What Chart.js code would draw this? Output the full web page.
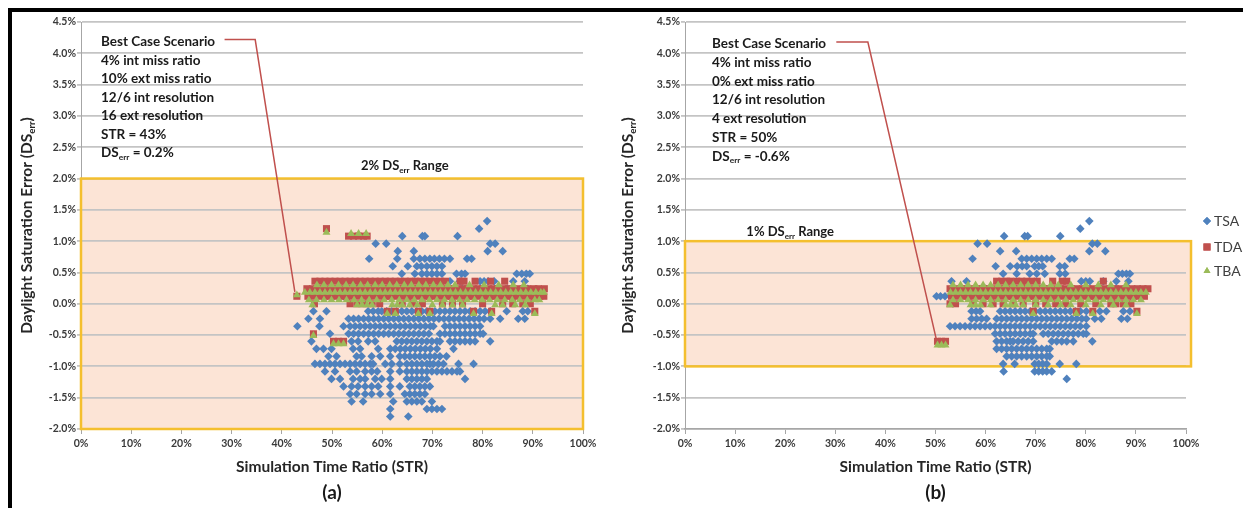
<!DOCTYPE html>
<html>
<head>
<meta charset="utf-8">
<script src="https://cdn.jsdelivr.net/npm/chart.js@4.4.1/dist/chart.umd.min.js"></script>
<style>
  html, body { margin: 0; padding: 0; background: #fff; width: 1243px; height: 508px; overflow: hidden; }
  #frame { position: absolute; left: 8px; top: 8px; width: 1235px; height: 500px; box-sizing: border-box;
           border-top: 4px solid #000; border-left: 4px solid #000; }
  canvas { position: absolute; top: 0; }
  #ca { left: 0; }
  #cb { left: 620px; }
</style>
</head>
<body>
<div id="frame"></div>
<canvas id="ca" width="620" height="508"></canvas>
<canvas id="cb" width="623" height="508"></canvas>
<script>
// axis ticks
const xTicks = [0, 10, 20, 30, 40, 50, 60, 70, 80, 90, 100];
const yTicks = [-2, -1.5, -1, -0.5, 0, 0.5, 1, 1.5, 2, 2.5, 3, 3.5, 4, 4.5];
const seriesNames = ['TSA', 'TDA', 'TBA'];

// panel (a) rows: [DSerr %, [STR % ...]]
const tsaA = [
  [1.32, [80.9]],
  [1.20, [79.3]],
  [1.08, [64.0, 68.0, 68.5, 75.0]],
  [0.96, [58.7, 60.8, 81.5, 82.5]],
  [0.84, [63.1, 66.3, 81.0, 84.0]],
  [0.72, [57.4, 63.0, 66.3, 67.5, 68.5, 69.5, 70.4, 71.4, 72.4, 73.5, 76.9, 77.8]],
  [0.60, [62.1, 65.1, 66.9, 67.8, 68.9, 69.9, 70.9, 71.9]],
  [0.48, [63.9, 66.5, 67.9, 68.9, 69.9, 70.9, 71.9, 74.8, 75.8, 76.5, 86.8, 87.8, 88.7, 89.4]],
  [0.36, [73.5, 75.5, 79.5, 80.3, 81.1, 82.3, 86.1, 88.4]],
  [0.24, [55.0, 60.0, 65.0, 70.0, 76.0, 85.0, 89.0]],
  [0.12, [50.3, 51.3, 52.3]],
  [-0.12, [46.3, 48.9, 57.2, 58.2, 59.2, 59.9, 60.9, 61.9, 62.9, 63.9, 64.9, 65.9, 66.9, 67.9, 68.9, 69.5, 70.5, 71.5,
           72.5, 73.5, 74.5, 75.5, 76.5, 77.5, 78.5, 79.5, 80.5, 81.5, 84.8, 88.0, 89.0]],
  [-0.24, [45.3, 47.6, 53.3, 54.3, 55.3, 56.3, 57.3, 58.3, 59.3, 60.3, 61.3, 62.3, 63.3, 64.3, 65.3, 66.3, 67.3, 68.3,
           69.3, 70.3, 71.3, 72.3, 73.3, 74.3, 75.3, 76.3, 77.3, 78.3, 79.3, 80.3, 81.5, 83.5, 87.1, 88.4]],
  [-0.36, [43.1, 47.5, 52.3, 53.6, 54.6, 55.6, 56.6, 57.6, 58.6, 59.6, 60.6, 61.6, 62.6, 63.6, 64.6, 65.6, 66.6, 67.6,
           68.6, 69.6, 70.2, 72.5, 73.5, 74.5, 75.5, 76.5, 77.5, 78.5, 79.5]],
  [-0.48, [49.6, 53.3, 54.3, 55.3, 56.3, 57.3, 58.3, 59.3, 60.3, 61.3, 62.3, 63.3, 64.3, 65.3, 66.3, 67.3, 68.3, 69.3,
           71.5, 72.5, 73.5, 74.5, 75.5, 76.5, 77.5, 78.5, 79.5, 80.1]],
  [-0.60, [45.9, 53.9, 55.2, 57.2, 58.6, 62.9, 63.9, 64.9, 65.9, 66.9, 67.9, 68.9, 69.9, 70.9, 71.5, 73.5, 74.5, 75.5,
           76.5, 77.5, 78.5, 81.5]],
  [-0.72, [46.9, 48.3, 49.9, 54.2, 55.6, 59.2, 61.6, 62.6, 63.6, 64.6, 65.6, 66.6, 67.6, 68.6, 69.6, 70.9, 74.2]],
  [-0.84, [49.3, 50.9, 54.9, 55.9, 57.9, 59.6, 61.6, 63.5, 64.5, 65.5, 66.5, 67.5, 68.5, 69.5, 70.5, 71.5, 72.8]],
  [-0.96, [46.6, 47.6, 48.6, 49.6, 50.6, 51.6, 52.6, 53.6, 54.6, 55.6, 56.6, 57.6, 58.2, 60.6, 61.9, 63.5, 64.9, 65.9,
           66.9, 67.9, 68.9, 69.5, 70.2, 71.2, 72.2, 75.2, 78.2]],
  [-1.08, [48.6, 50.6, 53.6, 54.9, 56.6, 57.9, 59.0, 61.6, 63.5, 64.9, 65.9, 66.9, 67.9, 68.9, 69.9, 70.9, 71.9, 72.9,
           73.9, 74.9, 75.5]],
  [-1.20, [49.9, 51.6, 54.2, 55.6, 56.6, 58.6, 59.9, 61.6, 64.9, 65.9, 66.9, 67.9, 68.9, 76.5]],
  [-1.32, [52.3, 53.9, 55.2, 56.6, 57.9, 59.2, 61.6, 63.5, 65.5, 66.5, 67.5, 68.5, 69.5]],
  [-1.44, [53.6, 54.9, 56.6, 57.9, 59.6, 61.6, 64.5, 65.5, 66.5, 67.5, 68.5]],
  [-1.56, [53.9, 56.2, 62.2, 64.9, 65.9, 66.9, 67.9, 69.9]],
  [-1.68, [61.6, 68.9, 69.9, 70.9, 71.9]],
  [-1.80, [61.6, 65.2]]
];
const tdaA = [
  [1.20, [48.9]],
  [1.08, [53.3, 54.3, 55.3, 56.3, 57.0]],
  [0.36, [46.6, 47.6, 48.6, 49.6, 50.6, 51.6, 52.6, 53.6, 54.6, 55.6, 56.6, 57.6, 58.6, 59.6, 60.6, 61.6, 62.6, 63.6,
          64.6, 65.6, 66.6, 67.6, 68.6, 69.6, 70.6, 71.6, 72.6, 75.5, 76.3, 78.5, 81.6, 84.4]],
  [0.24, [45.0, 46.1, 47.0, 48.2, 49.1, 50.0, 51.2, 52.1, 53.0, 54.2, 55.1, 56.0, 57.2, 58.1, 59.0, 60.2, 61.1, 62.0,
          63.2, 64.1, 65.0, 66.2, 67.1, 68.0, 69.2, 70.1, 71.0, 72.2, 73.1, 74.0, 75.2, 76.1, 77.0, 78.2, 79.1, 80.0,
          81.2, 82.1, 83.0, 84.2, 85.1, 86.0, 87.2, 88.1, 89.0, 90.2, 91.1, 92.3]],
  [0.12, [43.0, 45.2, 46.3, 47.4, 48.5, 49.6, 50.7, 51.8, 52.9, 54.0, 55.1, 56.2, 57.3, 58.4, 59.5, 60.6, 61.7, 62.8,
          63.9, 65.0, 66.1, 67.2, 68.3, 69.4, 70.5, 71.6, 72.7, 73.8, 74.9, 76.0, 77.1, 78.2, 79.3, 80.4, 81.5, 82.6,
          83.7, 84.8, 85.9, 87.0, 88.1, 89.2, 90.3, 91.4, 92.2]],
  [0.00, [46.5, 53.6, 55.0, 56.5, 58.0, 59.5, 64.0, 66.0, 68.0, 72.0, 74.0, 76.0, 80.0, 84.0, 86.0, 88.0, 89.5]],
  [-0.12, [61.0, 62.6, 67.2, 69.5, 78.2, 81.8, 90.4]],
  [-0.48, [46.3]],
  [-0.60, [50.3, 51.3, 52.3]]
];
const tbaA = [
  [1.14, [48.9]],
  [1.12, [53.8, 55.3, 56.8]],
  [0.30, [47.0, 48.4, 49.9, 51.3, 52.8, 54.2, 55.7, 57.1, 58.6, 60.0, 61.5, 62.9, 64.4, 65.8, 67.3, 68.7, 70.2, 71.6,
          73.1, 74.5, 77.4, 80.3, 83.2, 86.1, 88.2]],
  [0.18, [44.6, 45.6, 46.6, 47.6, 48.6, 49.6, 50.6, 51.6, 52.6, 53.6, 54.6, 55.6, 56.6, 57.6, 58.6, 59.6, 60.6, 61.6,
          62.6, 63.6, 64.6, 65.6, 66.6, 67.6, 68.6, 69.6, 70.6, 71.6, 72.6, 73.6, 74.6, 75.6, 76.6, 77.6, 78.6, 79.6,
          80.6, 81.6, 82.6, 83.6, 84.6, 85.6, 86.6, 87.6, 88.6, 89.6, 90.6, 91.6, 92.2]],
  [0.06, [45.4, 46.9, 48.4, 49.9, 51.4, 52.9, 54.4, 55.9, 57.4, 58.9, 60.4, 61.9, 63.4, 64.9, 66.4, 67.9, 69.4, 70.9,
          72.4, 73.9, 75.4, 76.9, 78.4, 79.9, 81.4, 82.9, 84.4, 85.9, 87.4, 88.9, 90.4, 91.3]],
  [-0.02, [46.1, 55.0, 56.0, 57.0, 58.0, 62.0, 63.0, 64.0, 65.5, 67.0, 70.0, 72.0, 74.0, 76.0, 82.5, 84.0, 86.5, 88.5]],
  [-0.16, [61.0, 62.6, 67.2, 69.5, 78.2, 81.8, 90.4]],
  [0.14, [43.0]],
  [-0.51, [46.3]],
  [-0.64, [50.3, 51.3, 52.3]]
];

// panel (b) rows
const tsaB = [
  [1.32, [80.7]],
  [1.20, [78.9]],
  [1.08, [63.7, 67.8, 68.4, 74.9]],
  [0.96, [58.4, 60.3, 81.3, 82.3]],
  [0.84, [62.9, 66.1, 80.7, 83.9]],
  [0.72, [57.4, 67.2, 68.2, 69.2, 70.2, 71.2, 72.2, 73.2, 76.8, 77.7]],
  [0.60, [62.0, 64.9, 66.3, 67.3, 68.2, 69.8, 70.6, 71.4, 74.8, 75.8]],
  [0.48, [63.5, 66.2, 68.8, 70.2, 71.8, 74.8, 75.9, 86.5, 87.3, 88.1, 88.8]],
  [0.36, [53.2, 56.2, 79.1, 80.0, 80.8, 83.5, 86.1, 88.5]],
  [0.24, [55.0, 60.0, 66.0, 73.0, 86.0]],
  [0.12, [50.2, 51.0, 51.9]],
  [-0.12, [57.2, 58.1, 58.9, 62.9, 63.9, 64.9, 65.9, 66.9, 67.9, 68.9, 69.9, 70.9, 71.9, 72.9, 73.9, 74.9, 75.9, 76.9,
           77.9, 78.9, 80.1, 82.8, 84.1, 87.5, 88.8]],
  [-0.24, [57.2, 58.2, 59.2, 60.2, 62.2, 63.2, 64.2, 65.2, 66.2, 67.2, 68.2, 69.2, 70.2, 71.2, 72.2, 73.2, 74.2, 75.2,
           76.2, 77.2, 78.2, 79.2, 80.1, 81.8, 83.1, 87.1, 88.3]],
  [-0.36, [52.9, 53.9, 54.9, 55.9, 56.9, 57.9, 58.9, 59.9, 60.9, 61.9, 62.9, 63.9, 64.9, 65.9, 66.9, 67.9, 68.9, 69.9,
           70.9, 71.9, 72.9, 73.9, 74.9, 75.9, 76.9, 77.9, 78.9, 80.1]],
  [-0.48, [61.9, 62.9, 63.9, 64.9, 65.9, 66.9, 67.9, 68.9, 69.5, 71.5, 72.5, 73.5, 74.5, 75.5, 76.5, 77.5, 78.5, 79.5, 80.1]],
  [-0.60, [62.2, 63.2, 64.2, 64.9, 65.5, 66.5, 67.5, 68.5, 69.5, 73.2, 74.2, 75.2, 76.2, 77.5, 81.3]],
  [-0.72, [62.2, 63.2, 64.2, 65.2, 66.2, 67.2, 68.2, 69.2, 70.2, 71.2, 72.2, 72.8]],
  [-0.84, [64.2, 65.2, 66.2, 67.2, 68.2, 69.2, 70.2, 71.2, 72.2, 72.8]],
  [-0.96, [63.5, 65.8, 69.8, 70.6, 71.4, 72.2, 74.8, 78.1]],
  [-1.08, [63.6, 69.8, 70.6, 71.4, 72.2, 73.2]],
  [-1.20, [76.2]]
];
const tdaB = [
  [0.36, [62.2, 63.2, 64.2, 64.9, 66.2, 67.2, 68.2, 69.2, 70.3, 73.4, 75.3, 76.2, 83.5]],
  [0.24, [52.9, 54.0, 55.1, 56.2, 57.3, 58.4, 59.5, 60.6, 61.7, 62.8, 63.9, 65.0, 66.1, 67.2, 68.3, 69.4, 70.5, 71.6,
          72.7, 73.8, 74.9, 76.0, 77.1, 78.2, 79.3, 80.4, 81.5, 82.6, 83.7, 84.8, 85.9, 87.0, 88.1, 89.2, 90.3, 91.4, 92.4]],
  [0.12, [53.2, 54.3, 55.4, 56.5, 57.6, 58.7, 59.8, 60.9, 62.0, 63.1, 64.2, 65.3, 66.4, 67.5, 68.6, 69.7, 70.8, 71.9,
          73.0, 74.1, 75.2, 76.3, 77.4, 78.5, 79.6, 80.7, 81.8, 82.9, 84.0, 85.1, 86.2, 87.3, 88.4, 89.5, 90.6, 91.7]],
  [0.00, [52.9, 54.0, 57.5, 59.5, 61.5, 63.5, 65.5, 67.5, 70.0, 72.0, 74.0, 76.0, 79.0, 82.0, 85.0, 86.0, 87.5, 89.0]],
  [-0.12, [69.5, 78.1, 81.4, 90.2]],
  [-0.60, [50.4, 51.2, 52.0]]
];
const tbaB = [
  [0.30, [53.5, 55.0, 56.5, 58.0, 59.5, 61.0, 62.5, 64.0, 65.5, 67.0, 68.5, 70.0, 71.5, 73.0, 74.5, 77.0, 80.0,
          82.5, 85.0, 88.0]],
  [0.18, [53.0, 54.0, 55.0, 56.0, 57.0, 58.0, 59.0, 60.0, 61.0, 62.0, 63.0, 64.0, 65.0, 66.0, 67.0, 68.0, 69.0, 70.0,
          71.0, 72.0, 73.0, 74.0, 75.0, 76.0, 77.0, 78.0, 79.0, 80.0, 81.0, 82.0, 83.0, 84.0, 85.0, 86.0, 87.0, 88.0,
          89.0, 90.0, 91.0, 92.0]],
  [0.06, [53.5, 55.0, 56.5, 58.0, 59.5, 61.0, 62.5, 64.0, 65.5, 67.0, 68.5, 70.0, 71.5, 73.0, 74.5, 76.0, 77.5, 79.0,
          80.5, 82.0, 83.5, 85.0, 86.5, 88.0, 89.5, 91.0]],
  [-0.02, [52.9, 57.0, 58.0, 59.0, 61.0, 64.0, 65.0, 66.0, 67.5, 70.0, 72.5, 75.0, 77.0, 80.0, 83.0, 85.5, 88.0]],
  [-0.16, [69.5, 78.1, 81.4, 90.2]],
  [-0.66, [50.4, 51.2, 52.0]]
];

const notesA = ['Best Case Scenario', '4% int miss ratio', '10% ext miss ratio', '12/6 int resolution',
                '16 ext resolution', 'STR = 43%', 'DS{err} = 0.2%'];
const notesB = ['Best Case Scenario', '4% int miss ratio', '0% ext miss ratio', '12/6 int resolution',
                '4 ext resolution', 'STR = 50%', 'DS{err} = -0.6%'];

const FONT = 'Lato, "Open Sans", sans-serif';
const colors = { TSA: '#4F81BD', TDA: '#C0504D', TBA: '#9BBB59' };

function toPoints(rows) {
  const pts = [];
  rows.forEach(r => r[1].forEach(x => pts.push({ x: x, y: r[0] })));
  return pts;
}

// text with {sub} parts drawn as subscript
function drawRich(ctx, str, x, y, size, align, color) {
  const parts = str.split(/[{}]/);
  const f = (s) => 'bold ' + s + 'px ' + FONT;
  let w = 0;
  parts.forEach((p, i) => { ctx.font = f(i % 2 ? size * 0.62 : size); w += ctx.measureText(p).width; });
  let cx = align === 'center' ? x - w / 2 : x;
  ctx.fillStyle = color || '#1f1f1f';
  ctx.textAlign = 'left';
  ctx.textBaseline = 'middle';
  parts.forEach((p, i) => {
    const sub = i % 2;
    ctx.font = f(sub ? size * 0.62 : size);
    ctx.fillText(p, cx, y + (sub ? size * 0.32 : 0));
    cx += ctx.measureText(p).width;
  });
}

const decor = {
  id: 'decor',
  beforeDraw(chart, args, o) {
    const { ctx, scales: { x, y } } = chart;
    ctx.save();
    ctx.fillStyle = '#FCE4D6';
    const l = x.getPixelForValue(o.box[0]), r = x.getPixelForValue(o.box[1]);
    const t = y.getPixelForValue(o.box[3]), b = y.getPixelForValue(o.box[2]);
    ctx.fillRect(l, t, r - l, b - t);
    ctx.restore();
  },
  beforeDatasetsDraw(chart, args, o) {
    const { ctx, scales: { x, y } } = chart;
    ctx.save();
    ctx.strokeStyle = '#F4BF2E';
    ctx.lineWidth = 2.5;
    const l = x.getPixelForValue(o.box[0]), r = x.getPixelForValue(o.box[1]);
    const t = y.getPixelForValue(o.box[3]), b = y.getPixelForValue(o.box[2]);
    ctx.strokeRect(l, t, r - l, b - t);
    ctx.restore();
  },
  afterDraw(chart, args, o) {
    const { ctx, chartArea: ca, scales: { x, y } } = chart;
    ctx.save();
    // notes
    o.notes.forEach((s, i) => drawRich(ctx, s, o.noteX, o.noteY + i * o.noteStep, 13.5, 'left', '#1a1a1a'));
    // callout
    ctx.strokeStyle = '#C0504D';
    ctx.lineWidth = 1.5;
    ctx.beginPath();
    o.callout.forEach((p, i) => {
      const px = x.getPixelForValue(p[0]), py = y.getPixelForValue(p[1]);
      if (i) ctx.lineTo(px, py); else ctx.moveTo(px, py);
    });
    ctx.stroke();
    // range label
    drawRich(ctx, o.range[0], x.getPixelForValue(o.range[1]), y.getPixelForValue(o.range[2]), 13, 'center', '#1a1a1a');
    // axis titles
    const cx = (ca.left + ca.right) / 2;
    drawRich(ctx, 'Simulation Time Ratio (STR)', cx, 467, 15.5, 'center', '#262626');
    ctx.translate(o.yTitleX, (ca.top + ca.bottom) / 2);
    ctx.rotate(-Math.PI / 2);
    drawRich(ctx, 'Daylight Saturation Error (DS{err})', 0, 0, 15.5, 'center', '#262626');
    ctx.restore();
    ctx.save();
    ctx.fillStyle = '#1a1a1a';
    ctx.font = 'bold 19px ' + FONT;
    ctx.textAlign = 'center';
    ctx.textBaseline = 'middle';
    ctx.fillText(o.letter, cx, 493);
    if (o.legendX) {
      const ly = [221, 247, 271];
      const styles = ['rectRot', 'rect', 'triangle'];
      seriesNames.forEach((n, i) => {
        ctx.fillStyle = colors[n];
        Chart.helpers.drawPoint(ctx, { pointStyle: styles[i], radius: i === 1 ? 5 : 4, borderWidth: 0 }, o.legendX, ly[i]);
        ctx.fill();
        ctx.fillStyle = '#404040';
        ctx.font = '14px ' + FONT;
        ctx.textAlign = 'left';
        ctx.fillText(n, o.legendX + 7, ly[i]);
      });
    }
    ctx.restore();
  }
};

function makeChart(id, tsa, tda, tba, padRight, yWidth, opts) {
  const ds = (name, rows, style, radius, order) => ({
    label: name, data: toPoints(rows), pointStyle: style, pointRadius: radius,
    backgroundColor: colors[name], borderColor: colors[name], borderWidth: 0, order: order
  });
  return new Chart(document.getElementById(id), {
    type: 'scatter',
    data: {
      datasets: [
        ds('TSA', tsa, 'rectRot', 4.3, 3),
        ds('TDA', tda, 'rect', 5, 2),
        ds('TBA', tba, 'triangle', 4.6, 1)
      ]
    },
    options: {
      responsive: false,
      animation: false,
      events: [],
      layout: { padding: { left: 0, right: padRight, top: 22, bottom: 0 } },
      plugins: { legend: { display: false }, tooltip: { enabled: false }, decor: opts },
      scales: {
        x: {
          type: 'linear', min: 0, max: 100,
          afterFit: s => { s.height = 79; },
          afterBuildTicks: s => { s.ticks = xTicks.map(v => ({ value: v })); },
          grid: { drawOnChartArea: false, tickLength: 5, color: '#A6A6A6', lineWidth: 1 },
          border: { color: '#A6A6A6', width: 1.5 },
          ticks: { callback: v => v + '%', color: '#3a3a3a', font: { family: FONT, size: 10.5, weight: 'bold' }, maxRotation: 0, padding: 3 }
        },
        y: {
          type: 'linear', min: -2, max: 4.5,
          afterFit: s => { s.width = yWidth; },
          afterBuildTicks: s => { s.ticks = yTicks.map(v => ({ value: v })); },
          grid: { color: '#C4C4C4', lineWidth: 1.8, tickLength: 4 },
          border: { color: '#A6A6A6', width: 1 },
          ticks: { callback: v => v.toFixed(1) + '%', color: '#3a3a3a', font: { family: FONT, size: 10.5, weight: 'bold' }, padding: 1 }
        }
      }
    },
    plugins: [decor]
  });
}

makeChart('ca', tsaA, tdaA, tbaA, 37, 81, {
  box: [0, 100, -2, 2],
  notes: notesA, noteX: 101, noteY: 42, noteStep: 18.5,
  callout: [[28.6, 4.22], [34.7, 4.22], [42.6, 0.19]],
  range: ['2% DS{err} Range', 64.5, 2.2],
  yTitleX: 27, letter: '(a)'
});
makeChart('cb', tsaB, tdaB, tbaB, 57, 65, {
  box: [0, 101, -1, 1],
  notes: notesB, noteX: 92, noteY: 44, noteStep: 18.7,
  callout: [[30.2, 4.18], [36.5, 4.18], [50.2, -0.58]],
  range: ['1% DS{err} Range', 21, 1.15],
  yTitleX: 8, letter: '(b)', legendX: 587
});
</script>
</body>
</html>
